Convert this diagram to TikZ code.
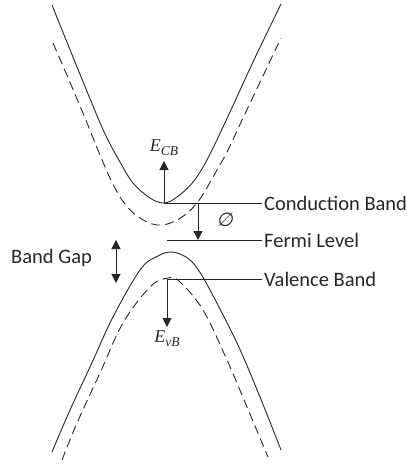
\documentclass[tikz,border=0pt]{standalone}
\usepackage{fontspec}
\setmainfont{Carlito}
\newfontfamily\symserif{Liberation Serif}
\newfontfamily\symset[FakeSlant=0.18]{DejaVu Sans}
\newcommand{\lowsub}[1]{\raisebox{-4pt}{\fontsize{13.5}{15}\selectfont #1}}
\usetikzlibrary{arrows.meta,positioning}
\definecolor{ink}{HTML}{262626}
\tikzset{
  band/.style={line width=0.9pt, ink},
  shade/.style={band, dash pattern=on 9pt off 5pt},
  level/.style={line width=0.9pt, ink},
  tag/.style={anchor=west, inner sep=2pt, text=ink, font=\fontsize{20.5}{24}\selectfont},
  sym/.style={inner sep=1pt, text=ink, font=\symserif\itshape\fontsize{18}{20}\selectfont},
  ptr/.style={line width=1pt, ink, -{Triangle[length=9pt,width=9pt]}},
  dbl/.style={line width=1pt, ink, {Triangle[length=9pt,width=9pt]}-{Triangle[length=9pt,width=9pt]}},
}
\begin{document}
\begin{tikzpicture}[x=1pt,y=-1pt]
  \useasboundingbox (0,0) rectangle (407,466);
  % conduction band, solid and shifted
  \draw[band] plot[smooth, tension=0.6] coordinates {(52,5) (75,62) (98,118) (108,140) (120,162) (133,183) (150,198) (164,203) (177,197) (193,182) (208,158) (230,112) (253,62) (281,4)};
  \draw[shade] plot[smooth, tension=0.6] coordinates {(53,43) (69,80) (85,118) (100,155) (110,178) (122,200) (137,216) (157,225) (177,220) (197,203) (217,170) (228,150) (243,118) (262,78) (281,38)};
  % valence band, solid and shifted
  \draw[band] plot[smooth, tension=0.6] coordinates {(52,452) (70,410) (90,367) (113,317) (140,270) (156,257) (171,252) (186,257) (197,268) (210,290) (237,343) (260,397) (281,450)};
  \draw[shade] plot[smooth, tension=0.6] coordinates {(62,460) (77,423) (100,373) (123,323) (150,287) (168,278) (180,282) (203,310) (227,360) (247,407) (268,457)};
  \coordinate (cbmin) at (164,203);
  \coordinate (vbtop) at (167,279);
  \coordinate (fstart) at (167,240);
  \node[tag] (cbl) at (262,203) {Conduction Band};
  \node[tag] (fll) at (262,240) {Fermi Level};
  \node[tag] (vbl) at (262,279) {Valence Band};
  \draw[level] (cbmin) -- (cbl.west);
  \draw[level] (fstart) -- (fll.west);
  \draw[level] (vbtop) -- (vbl.west);
  \node[sym] (ecb) [above=46pt of cbmin] {E\lowsub{CB}};
  \node[sym] (evb) [below=51pt of vbtop] {E\lowsub{vB}};
  \draw[ptr, shorten >=4pt] (cbmin) -- (ecb);
  \draw[ptr, shorten >=3pt] (vbtop) -- (evb);
  % work function
  \coordinate (phitop) at (198,203);
  \coordinate (phibot) at (198,240);
  \draw[ptr] (phitop) -- (phibot);
  \node[sym, font=\symset\fontsize{19}{22}\selectfont] (phi) at (225,220) {∅};
  % gap
  \node[tag] (bgl) at (9,258) {Band Gap};
  \coordinate (gtop) at (116,240);
  \coordinate (gbot) at (116,283);
  \draw[dbl] (gtop) -- (gbot);
\end{tikzpicture}
\end{document}
